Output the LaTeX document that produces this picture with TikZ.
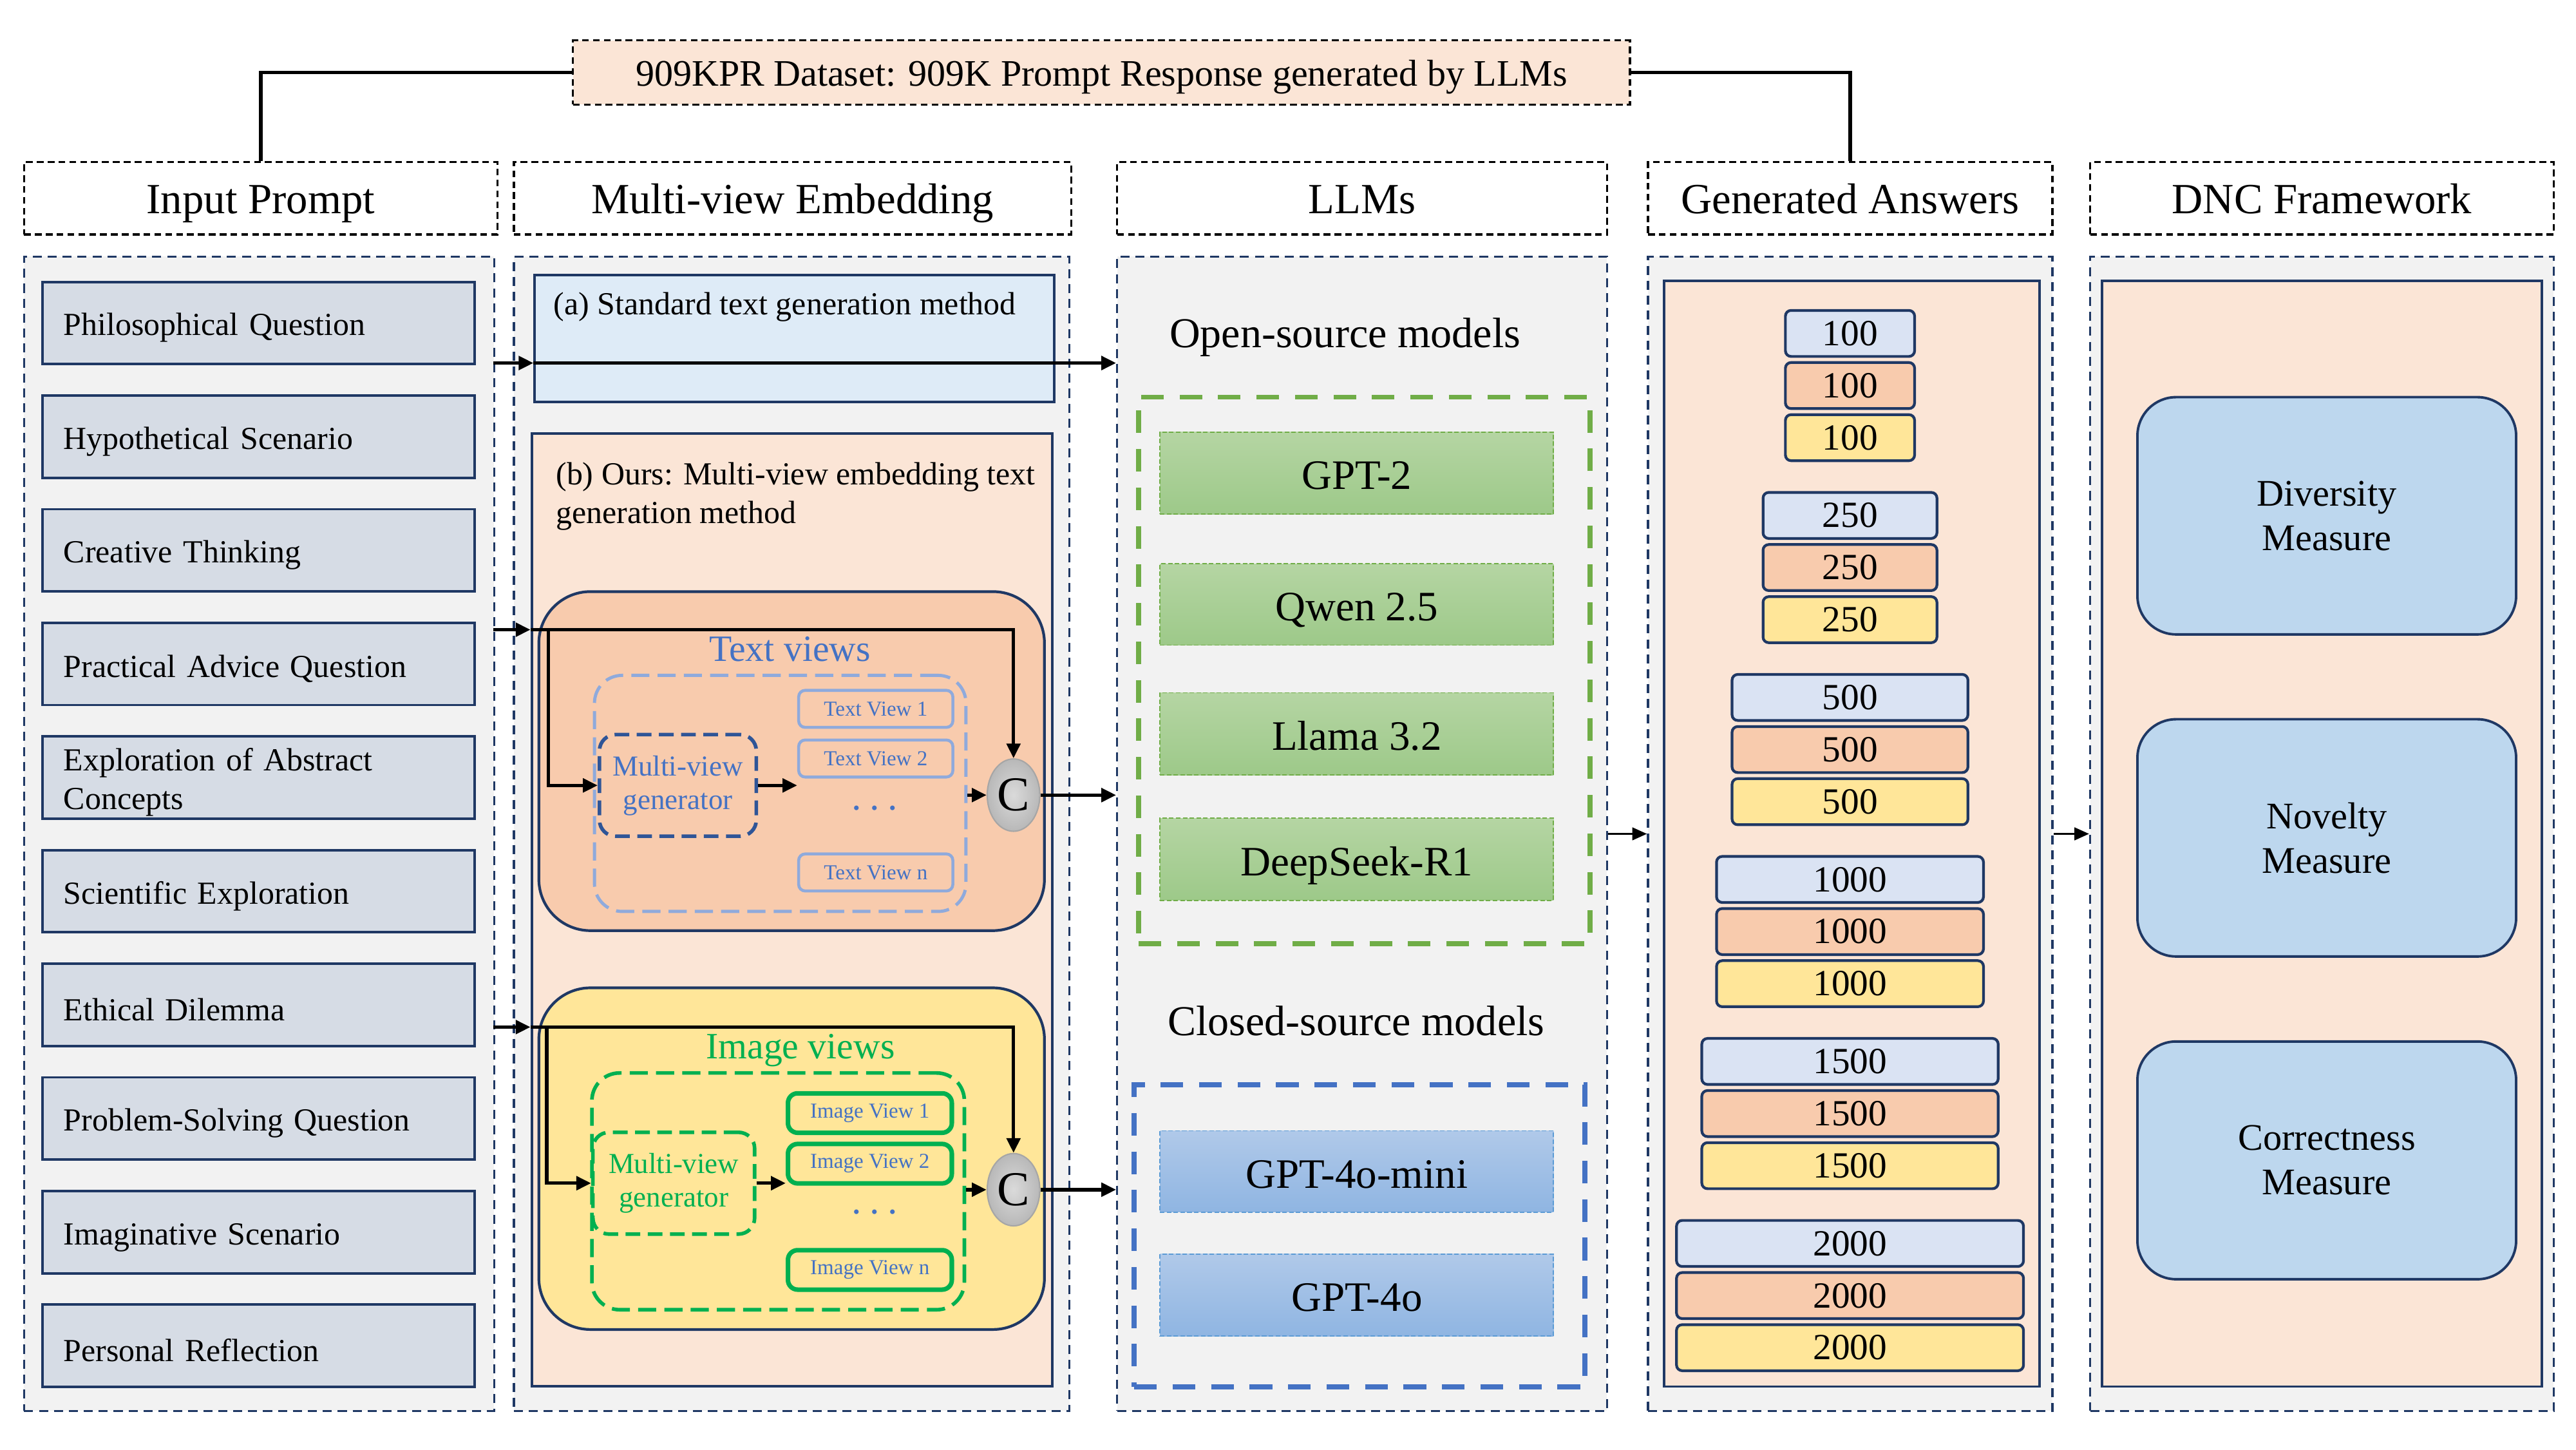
\documentclass[tikz,border=0pt]{standalone}
\usepackage{fontspec}
\setmainfont{Liberation Serif}
\usetikzlibrary{arrows.meta,shapes.geometric}
\definecolor{navy}{HTML}{1F3864}
\definecolor{panelbg}{HTML}{F2F2F2}
\definecolor{peach}{HTML}{FBE5D6}
\definecolor{promptbg}{HTML}{D6DCE5}
\definecolor{abg}{HTML}{DEEBF7}
\definecolor{salmon}{HTML}{F8CBAD}
\definecolor{yel}{HTML}{FFE699}
\definecolor{lblue}{HTML}{DAE3F3}
\definecolor{measbg}{HTML}{BDD7EE}
\definecolor{tblue}{HTML}{4472C4}
\definecolor{dblue}{HTML}{2F5597}
\definecolor{pblue}{HTML}{8FAADC}
\definecolor{igreen}{HTML}{00B050}
\definecolor{lgreen}{HTML}{70AD47}
\definecolor{gtop}{HTML}{B5D5A3}
\definecolor{gbot}{HTML}{9DC989}
\definecolor{btop}{HTML}{B0C9E9}
\definecolor{bbot}{HTML}{8FB5E2}
\definecolor{bdash}{HTML}{5B9BD5}
\definecolor{cin}{HTML}{DADADA}
\definecolor{cout}{HTML}{B8B8B8}
\definecolor{cedge}{HTML}{A6A6A6}
\newcommand\U{0.25523mm}
\newcommand\bx[7]{\node[#1,anchor=north west,minimum width={(#5-#3)*\U},minimum height={(#6-#4)*\U}] (#2) at (#3,#4) {#7};}
\tikzset{
  topbox/.style={draw=black,line width=0.9pt,dash pattern=on 3pt off 1.8pt,fill=peach,inner sep=0pt,text height=15.4pt,text depth=3.6pt,font=\fontsize{16.5}{19}\selectfont},
  hdr/.style={draw=black,line width=0.9pt,dash pattern=on 3pt off 1.8pt,fill=white,inner sep=0pt,text height=17.7pt,text depth=4.2pt,font=\fontsize{19}{22}\selectfont},
  panel/.style={draw=navy,line width=0.9pt,dash pattern=on 4pt off 2.6pt,fill=panelbg,inner sep=0pt},
  prompt/.style={draw=navy,line width=1.1pt,fill=promptbg,font=\fontsize{14.2}{17}\selectfont,align=left,text width=60.49mm,inner xsep=3.318mm,inner ysep=0pt,minimum height={50*\U}},
  solidbox/.style={draw=navy,line width=1.1pt,inner sep=0pt},
  viewbox/.style={draw=navy,line width=1.2pt,rounded corners=8mm,inner sep=0pt},
  tcont/.style={draw=pblue,line width=1.4pt,dash pattern=on 8pt off 3.6pt,rounded corners=4.3mm,inner sep=0pt},
  icont/.style={draw=igreen,line width=1.6pt,dash pattern=on 8pt off 3.6pt,rounded corners=4.3mm,inner sep=0pt},
  tgen/.style={draw=dblue,line width=1.6pt,dash pattern=on 6.5pt off 3.3pt,rounded corners=2.5mm,inner sep=0pt,text=tblue,align=center,font=\fontsize{12.8}{14.8}\selectfont},
  igen/.style={draw=igreen,line width=1.6pt,dash pattern=on 6.5pt off 3.3pt,rounded corners=2.5mm,inner sep=0pt,text=igreen,align=center,font=\fontsize{12.8}{14.8}\selectfont},
  tview/.style={draw=pblue,line width=1.3pt,rounded corners=1mm,inner sep=0pt,text=tblue,font=\fontsize{9.4}{11}\selectfont},
  iview/.style={draw=igreen,line width=2pt,rounded corners=1.5mm,inner sep=0pt,text=tblue,font=\fontsize{9.4}{11}\selectfont},
  cnode/.style={ellipse,draw=cedge,line width=0.6pt,inner color=cin,outer color=cout,minimum width={32*\U},minimum height={44*\U},inner sep=0pt,font=\fontsize{21.5}{24}\selectfont},
  dots/.style={text=tblue,inner sep=0pt,font=\fontsize{8.5}{9}\selectfont},
  vlabel/.style={inner sep=0pt,font=\fontsize{16.4}{19}\selectfont},
  plain14/.style={inner sep=0pt,font=\fontsize{14.2}{17}\selectfont,align=left},
  srclabel/.style={inner sep=0pt,font=\fontsize{18.8}{22}\selectfont},
  gdash/.style={draw=lgreen,line width=2.2pt,dash pattern=on 10pt off 7pt,inner sep=0pt},
  bdashbox/.style={draw=tblue,line width=2.2pt,dash pattern=on 10pt off 7pt,inner sep=0pt},
  gmodel/.style={draw=lgreen,line width=0.5pt,dash pattern=on 2pt off 1pt,top color=gtop,bottom color=gbot,inner sep=0pt,text height=14.5pt,text depth=0pt,font=\fontsize{18.5}{21}\selectfont},
  bmodel/.style={draw=bdash,line width=0.5pt,dash pattern=on 2pt off 1pt,top color=btop,bottom color=bbot,inner sep=0pt,text height=14.5pt,text depth=0pt,font=\fontsize{18.5}{21}\selectfont},
  numbox/.style={draw=navy,line width=1.2pt,rounded corners=2.5pt,minimum height={28*\U},inner sep=0pt,font=\fontsize{16.3}{18}\selectfont},
  meas/.style={draw=navy,line width=1.1pt,fill=measbg,rounded corners=6mm,inner sep=0pt,align=center,font=\fontsize{16.6}{19.6}\selectfont},
  arr/.style={draw=black,line width=1.5pt,-{Triangle[length=6.5pt,width=6pt]}},
  arrthin/.style={draw=black,line width=1.1pt,-{Triangle[length=6.5pt,width=5.5pt]}},
  conn/.style={draw=black,line width=1.6pt}
}
\begin{document}
\begin{tikzpicture}[x=\U,y=-\U]
\useasboundingbox (0,0) rectangle (1567.2,881.55);

% top dataset box and headers
\bx{topbox}{top}{348}{24}{991}{63}{909KPR Dataset: 909K Prompt Response generated by LLMs}
\bx{hdr}{h1}{14}{98}{302}{142}{Input Prompt}
\bx{hdr}{h2}{312}{98}{651}{142}{Multi-view Embedding}
\bx{hdr}{h3}{679}{98}{977}{142}{LLMs}
\bx{hdr}{h4}{1002}{98}{1248}{142}{Generated Answers}
\bx{hdr}{h5}{1271}{98}{1553}{142}{DNC Framework}
\draw[conn] (top.west) -| (h1.north);
\draw[conn] (top.east) -| (h4.north);

% panels
\bx{panel}{p1}{14}{155.5}{300}{857.6}{}
\bx{panel}{p2}{312}{155.5}{650}{857.6}{}
\bx{panel}{p3}{679}{155.5}{977}{857.6}{}
\bx{panel}{p4}{1002}{155.5}{1248}{857.6}{}
\bx{panel}{p5}{1271}{155.5}{1553}{857.6}{}

% prompts
\foreach \txt [count=\k from 0] in {Philosophical Question,Hypothetical Scenario,Creative Thinking,Practical Advice Question,{Exploration of Abstract\\Concepts},Scientific Exploration,Ethical Dilemma,Problem-Solving Question,Imaginative Scenario,Personal Reflection}{
  \pgfmathsetmacro\ty{170.7+69.12*\k}
  \node[prompt,anchor=north west] (q\k) at (25,\ty) {\rule{0pt}{14.1pt}\txt};
}

% multi-view embedding column
\bx{solidbox,fill=abg}{abox}{324.5}{166.7}{640.6}{243.7}{}
\node[plain14,anchor=base west] (atext) at (336.6,191.5) {(a) Standard text generation method};
\bx{solidbox,fill=peach}{bbox}{322.7}{263}{639.5}{842.5}{}
\node[plain14,anchor=north west] (btext) at (338,281) {(b) Ours: Multi-view embedding text\\generation method};

% text views
\bx{viewbox,fill=salmon}{tvbox}{327}{359}{634.6}{565.2}{}
\node[vlabel,text=tblue,anchor=base] (tvlabel) at (480.5,402.3) {Text views};
\bx{tcont}{tvc}{360.7}{409.8}{586.7}{553.4}{}
\bx{tgen}{gen1}{363.6}{445.7}{459}{507.5}{Multi-view\\generator}
\bx{tview}{tv1}{485}{419}{578.8}{441.5}{Text View 1}
\bx{tview}{tv2}{485}{449.2}{578.8}{471.7}{Text View 2}
\node[dots] (tvd) at (532,492.9) {\textbullet\hspace{5pt}\textbullet\hspace{5pt}\textbullet};
\bx{tview}{tvn}{485}{518.5}{578.8}{541}{Text View n}
\node[cnode] (c1) at (616.6,483.6) {C};

% image views
\bx{viewbox,fill=yel}{ivbox}{327}{600}{634.6}{807.8}{}
\node[vlabel,text=igreen,anchor=base] (ivlabel) at (487,644) {Image views};
\bx{icont}{ivc}{359}{651.5}{585.6}{795.5}{}
\bx{igen}{gen2}{359.6}{687.6}{458}{749.5}{Multi-view\\generator}
\bx{iview}{iv1}{478}{663.6}{577.7}{687.6}{Image View 1}
\bx{iview}{iv2}{478}{694.4}{577.7}{718.4}{Image View 2}
\node[dots] (ivd) at (532,738.5) {\textbullet\hspace{5pt}\textbullet\hspace{5pt}\textbullet};
\bx{iview}{ivn}{478}{759}{577.7}{783}{Image View n}
\node[cnode] (c2) at (616.6,723.6) {C};

% LLMs column
\node[srclabel,anchor=base] (ostext) at (818.3,211.5) {Open-source models};
\bx{gdash}{gbox}{691.2}{240}{965.7}{572.4}{}
\bx{gmodel}{m1}{705.4}{262.4}{944.8}{312.4}{GPT-2}
\bx{gmodel}{m2}{705.4}{342.6}{944.8}{392}{Qwen 2.5}
\bx{gmodel}{m3}{705.4}{421}{944.8}{471}{Llama 3.2}
\bx{gmodel}{m4}{705.4}{497.3}{944.8}{547.3}{DeepSeek-R1}
\node[srclabel,anchor=base] (cstext) at (825,630) {Closed-source models};
\bx{bdashbox}{cbox}{688.5}{658.4}{962.8}{841.9}{}
\bx{bmodel}{m5}{705.4}{687.4}{944.8}{737}{GPT-4o-mini}
\bx{bmodel}{m6}{705.4}{762.4}{944.8}{812.3}{GPT-4o}

% generated answers
\bx{solidbox,fill=peach}{ans}{1011.5}{170}{1240}{842.6}{}
\foreach \v/\w [count=\k from 0] in {100/78.6,250/105.8,500/143.5,1000/162.4,1500/180.3,2000/211.1}{
  \pgfmathsetmacro\ya{188.8+110.7*\k+14}
  \pgfmathsetmacro\yb{\ya+31.7}
  \pgfmathsetmacro\yc{\ya+63.4}
  \node[numbox,fill=lblue,minimum width={\w*\U}] (n\v-a) at (1125.5,\ya) {\v};
  \node[numbox,fill=salmon,minimum width={\w*\U}] (n\v-b) at (1125.5,\yb) {\v};
  \node[numbox,fill=yel,minimum width={\w*\U}] (n\v-c) at (1125.5,\yc) {\v};
}

% DNC framework
\bx{solidbox,fill=peach}{dnc}{1278}{170}{1545.5}{842.6}{}
\bx{meas}{d1}{1299.6}{240.8}{1530}{385.1}{Diversity\\Measure}
\bx{meas}{d2}{1299.6}{436.7}{1530}{581}{Novelty\\Measure}
\bx{meas}{d3}{1299.6}{632.7}{1530}{777.3}{Correctness\\Measure}

% connectors
\coordinate (s1) at (300,220.8);
\draw[arr] (s1) -- (s1 -| abox.west);
\draw[arr] (s1 -| abox.west) -- (s1 -| p3.west);

\coordinate (s2) at (300,383);
\coordinate (j1) at (333.7,383);
\draw[arr] (s2) -- (s2 -| bbox.west);
\draw[arr] (s2 -| bbox.west) -| (c1.north);
\draw[arr] (j1) |- (gen1.west);
\draw[arr] (gen1.east) -- (gen1.east -| tv2.west);
\draw[arr] (tvc.east |- c1) -- (c1.west);
\draw[arr] (c1.east) -- (c1.east -| p3.west);

\coordinate (s3) at (300,624.7);
\coordinate (j2) at (332.6,624.7);
\draw[arr] (s3) -- (s3 -| bbox.west);
\draw[arr] (s3 -| bbox.west) -| (c2.north);
\draw[arr] (j2) |- (gen2.west);
\draw[arr] (gen2.east) -- (gen2.east -| iv2.west);
\draw[arr] (ivc.east |- c2) -- (c2.west);
\draw[arr] (c2.east) -- (c2.east -| p3.west);

\draw[arrthin] (p3.east) -- (p4.west);
\draw[arrthin] (p4.east) -- (p5.west);
\end{tikzpicture}
\end{document}
